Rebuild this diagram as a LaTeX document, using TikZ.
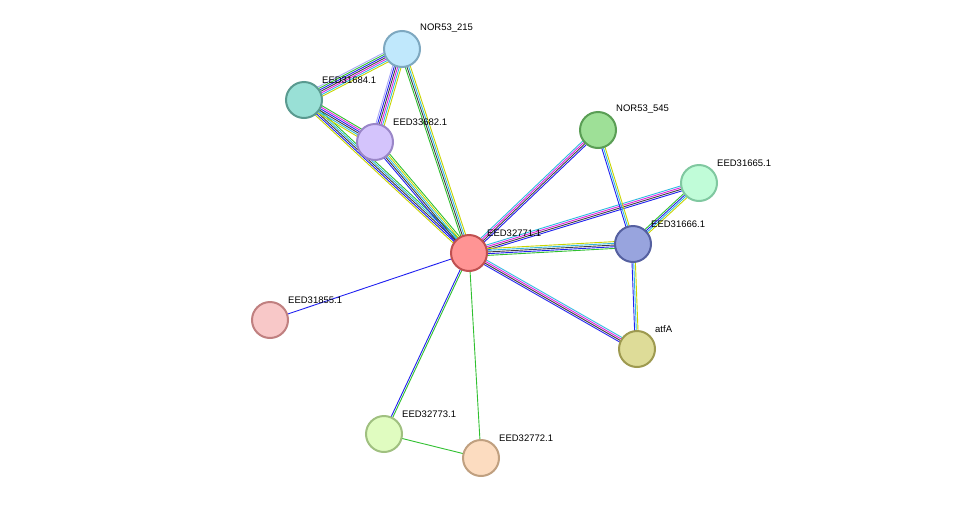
\documentclass[tikz,border=0pt]{standalone}
\usepackage{fontspec}
\setmainfont{Liberation Sans}
\usetikzlibrary{calc,backgrounds}
\definecolor{ctm}{HTML}{C8D400}
\definecolor{cdb}{HTML}{30B8E0}
\definecolor{cco}{HTML}{404040}
\definecolor{cbl}{HTML}{2020F0}
\definecolor{cmg}{HTML}{E020E0}
\definecolor{cnb}{HTML}{30C030}
\definecolor{cho}{HTML}{A8A8F8}
\tikzset{
 tm/.style={draw=ctm,line width=0.9pt}, db/.style={draw=cdb,line width=0.9pt},
 co/.style={draw=cco,line width=0.9pt}, bl/.style={draw=cbl,line width=0.9pt},
 mg/.style={draw=cmg,line width=0.9pt}, nb/.style={draw=cnb,line width=0.9pt},
 ho/.style={draw=cho,line width=0.9pt},
 prot/.style={circle,minimum size=36pt,inner sep=0pt,line width=2pt},
 lab/.style={anchor=south west,font=\fontsize{9.5}{11}\selectfont,inner sep=1pt}
}
\newcommand\medge[3]{%
 \def\nn{0}\foreach \c in {#3}{\xdef\nn{\the\numexpr\nn+1\relax}}%
 \foreach \c [count=\i] in {#3}{%
   \pgfmathsetmacro\off{(\i-(\nn+1)/2)*1.7}%
   \draw[\c] ($(#1)!\off pt!90:(#2)$) -- ($(#2)!\off pt!-90:(#1)$);}}
\newcommand\protn[5]{\definecolor{f#1}{HTML}{#4}\definecolor{s#1}{HTML}{#5}%
 \node[prot,fill=f#1,draw=s#1] (#1) at (#2) {};
 \node[lab] at ($(#2)+(17,-15)$) {#3};}
\begin{document}
\begin{tikzpicture}[x=1pt,y=-1pt]
\useasboundingbox (0,0) rectangle (975,504);
\protn{c}{469,253}{EED32771.1}{FF9494}{C05050}
\protn{n215}{402,49}{NOR53\_215}{C0E8FC}{7EA8C0}
\protn{e84}{304,100}{EED31684.1}{99E0D6}{5A9A90}
\protn{e82}{375,142}{EED33682.1}{D4C4FC}{9A86C8}
\protn{n545}{598,130}{NOR53\_545}{9EE097}{5A9E55}
\protn{e65}{699,183}{EED31665.1}{C0FCD8}{80C8A0}
\protn{e66}{633,244}{EED31666.1}{98A4DE}{5560A0}
\protn{atf}{637,349}{atfA}{DEDC98}{9E9A50}
\protn{e55}{270,320}{EED31855.1}{F8C8C8}{C08080}
\protn{e73}{384,434}{EED32773.1}{E0FCC0}{A0C080}
\protn{e72}{481,458}{EED32772.1}{FCDCC0}{C0A080}
\begin{scope}[on background layer]
\medge{c}{n215}{tm,db,co,nb}
\medge{c}{e84}{nb,db,co,bl,tm}
\medge{c}{e82}{nb,tm,db,co,bl}
\medge{e84}{n215}{tm,db,mg,co,bl,nb,ho}
\medge{e84}{e82}{tm,db,co,bl,mg,nb}
\medge{e82}{n215}{tm,db,mg,co,bl,ho}
\medge{c}{n545}{bl,co,mg,db}
\medge{c}{e65}{bl,co,mg,db}
\medge{c}{e66}{nb,bl,co,db,tm}
\medge{c}{atf}{bl,co,mg,db}
\medge{c}{e55}{bl}
\medge{c}{e73}{bl,nb}
\medge{c}{e72}{nb}
\medge{e73}{e72}{nb}
\medge{n545}{e66}{bl,db,tm}
\medge{e65}{e66}{nb,bl,db,tm}
\medge{e66}{atf}{bl,db,tm}
\end{scope}
\end{tikzpicture}
\end{document}
